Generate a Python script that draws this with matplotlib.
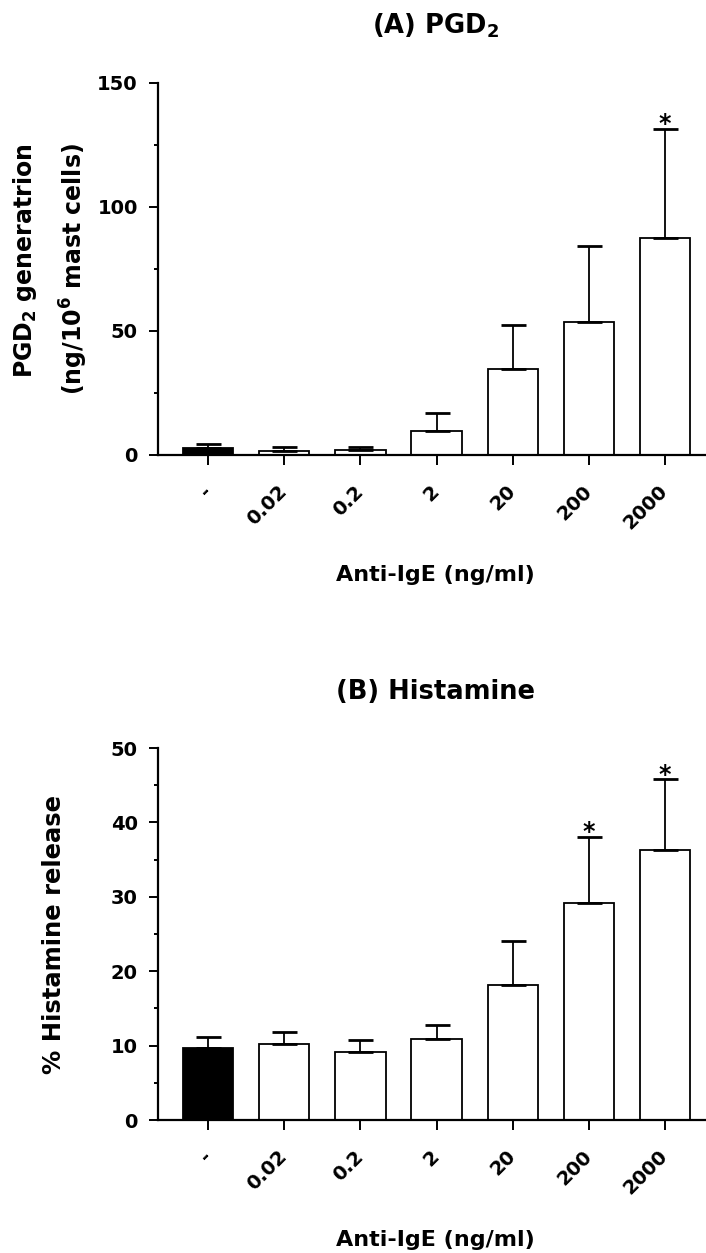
import matplotlib
matplotlib.use("Agg")
import matplotlib.pyplot as plt
import numpy as np

plt.rcParams['font.family'] = ['DejaVu Sans']
plt.rcParams['font.weight'] = 'bold'
plt.rcParams['mathtext.fontset'] = 'dejavusans'
plt.rcParams['mathtext.default'] = 'bf'

# ---- data ----
categories = ["-", "0.02", "0.2", "2", "20", "200", "2000"]
pgd2_mean = [2.7, 1.8, 1.9, 9.8, 34.7, 53.5, 87.4]
pgd2_err = [1.7, 1.3, 1.5, 7.3, 17.9, 30.8, 44.1]
pgd2_sig = [False, False, False, False, False, False, True]
hist_mean = [9.7, 10.2, 9.15, 10.85, 18.1, 29.2, 36.3]
hist_err = [1.5, 1.6, 1.55, 1.95, 5.9, 8.9, 9.5]
hist_sig = [False, False, False, False, False, True, True]
bar_colors = ["black", "white", "white", "white", "white", "white", "white"]

W, H = 706, 1253
fig = plt.figure(figsize=(W / 100, H / 100), dpi=100)

def px_axes(left, top, right, bottom):
    return fig.add_axes([left / W, 1 - bottom / H, (right - left) / W, (bottom - top) / H])

def draw_panel(ax, means, errs, sig, ymax, major, minor, ylabel, ylabel_x, ylabel_size, ls):
    x = np.arange(len(categories))
    ax.bar(x, means, width=0.66, color=bar_colors, edgecolor="black", linewidth=1.3, zorder=2)
    ax.errorbar(x, means, yerr=[np.zeros(len(errs)), errs], fmt="none", ecolor="black",
                elinewidth=1.3, capsize=9, capthick=2.0, zorder=3)
    for xi, m, e, s in zip(x, means, errs, sig):
        if s:
            ax.annotate("*", xy=(xi, m + e), xytext=(0, -1.8), textcoords="offset points",
                        ha="center", va="baseline", fontsize=17, fontweight="bold")
    ax.set_xlim(-0.66, 6.54)
    ax.set_ylim(0, ymax)
    ax.set_yticks(np.arange(0, ymax + 0.1, major))
    ax.set_yticks(np.arange(minor, ymax, major), minor=True)
    ax.set_xticks(x)
    ax.set_xticklabels(categories, rotation=45, ha="right", va="center", rotation_mode="anchor")
    for s in ["top", "right"]:
        ax.spines[s].set_visible(False)
    for s in ["left", "bottom"]:
        ax.spines[s].set_linewidth(1.6)
    ax.tick_params(axis="y", which="major", length=6.5, width=1.4, pad=8, labelsize=14)
    ax.tick_params(axis="y", which="minor", length=3.2, width=1.4)
    ax.tick_params(axis="x", which="major", length=7, width=1.4, pad=17, labelsize=14)
    ax.set_xlabel("Anti-IgE (ng/ml)", fontsize=16, fontweight="bold")
    ax.xaxis.set_label_coords(0.507, -0.323)
    ax.xaxis.label.set_va("center")
    ax.set_ylabel(ylabel, fontsize=ylabel_size, fontweight="bold", linespacing=ls)
    ax.yaxis.set_label_coords(ylabel_x, 0.5)
    ax.yaxis.label.set_va("center")
    return ax

axA = px_axes(158, 83, 706, 455)
draw_panel(axA, pgd2_mean, pgd2_err, pgd2_sig, 150, 50, 25,
           "PGD$_2$ generatrion\n(ng/10$^6$ mast cells)", -0.196, 17, 1.75)
axA.yaxis.label.set_multialignment("right")
axB = px_axes(158, 748, 706, 1120)
draw_panel(axB, hist_mean, hist_err, hist_sig, 50, 10, 5,
           "% Histamine release", -0.19, 17.5, 1.2)

fig.text(435 / W, 1 - 26 / H, "(A) PGD$_2$", ha="center", va="center", fontsize=18.5, fontweight="bold")
fig.text(435 / W, 1 - 692 / H, "(B) Histamine", ha="center", va="center", fontsize=18.5, fontweight="bold")

fig.savefig("out.png", dpi=100)
